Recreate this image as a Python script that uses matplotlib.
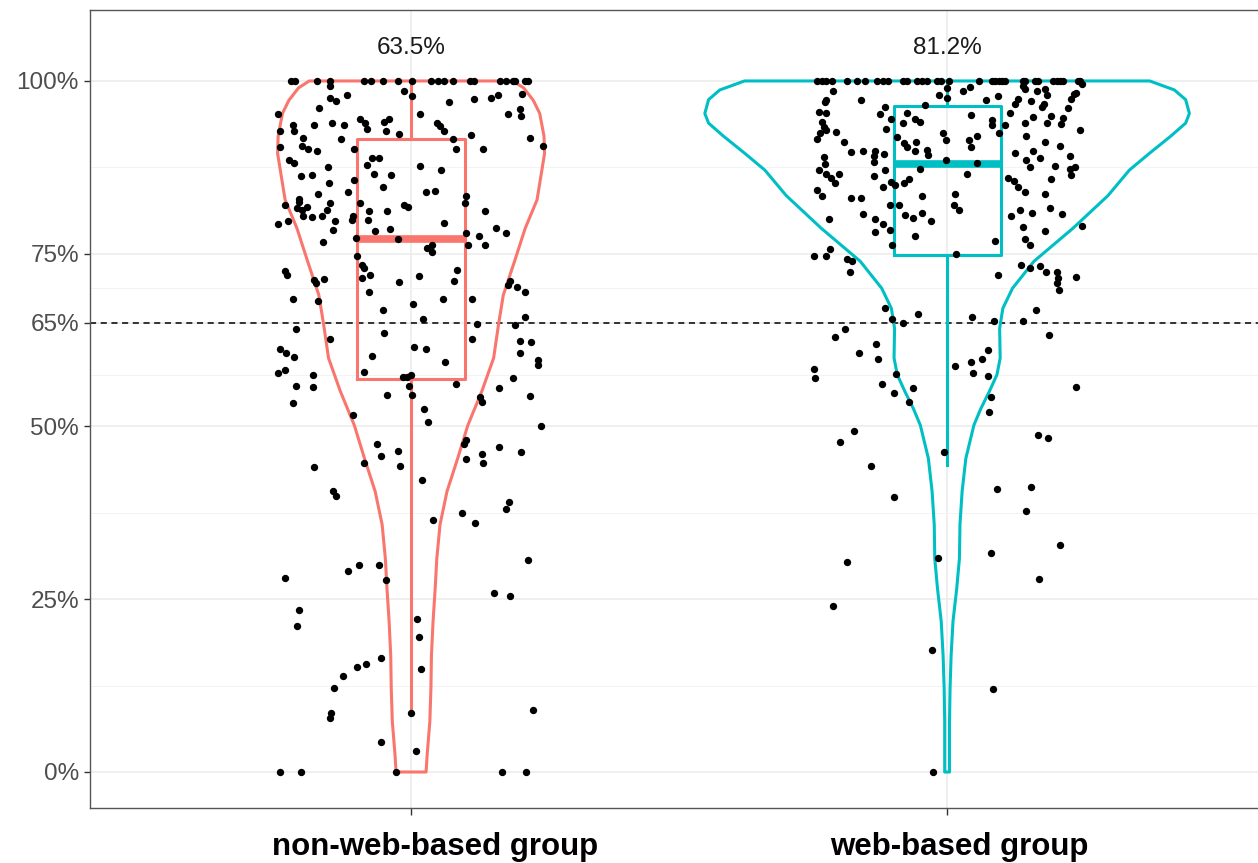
import numpy as np
import matplotlib
matplotlib.use("Agg")
import matplotlib.pyplot as plt
import matplotlib.transforms as mtransforms

# group names and the proportion labels printed above each violin
groups = ["non-web-based group", "web-based group"]
top_labels = ["63.5%", "81.2%"]
colors = ["#F8766D", "#00BFC4"]

# box stats: whisker low, q1, median, q3, whisker high (%)
box1 = [8.6, 56.9, 77.2, 91.6, 100.0]
box2 = [44.4, 74.8, 88.0, 96.4, 100.0]

# violin outline: score levels (%) and half width (in group units)
vio1_y = [0, 2.5, 7.3, 12.1, 16.9, 21.8, 26.6, 30.9, 35.8, 40.6, 45.4, 50.2, 55.1,
          59.9, 64.7, 69.0, 73.9, 78.7, 82.8, 87.1, 89.5, 92.0, 95.3, 97.2, 99.0, 100]
vio1_w = [0.028, 0.030, 0.035, 0.037, 0.038, 0.041, 0.045, 0.048, 0.054, 0.067, 0.087,
          0.106, 0.132, 0.154, 0.163, 0.172, 0.193, 0.213, 0.235, 0.244, 0.249, 0.248,
          0.240, 0.228, 0.210, 0.190]
vio2_y = [0, 7.3, 12.1, 16.9, 21.8, 26.6, 30.9, 35.8, 40.6, 45.4, 50.2, 52.6, 55.1,
          57.5, 59.9, 64.2, 67.1, 70.0, 73.9, 78.7, 83.4, 87.1, 89.5, 92.0, 93.9, 95.3,
          97.3, 98.7, 100]
vio2_w = [0.0045, 0.0045, 0.0055, 0.0075, 0.011, 0.018, 0.023, 0.024, 0.028, 0.035,
          0.050, 0.063, 0.079, 0.093, 0.099, 0.098, 0.104, 0.122, 0.162, 0.235, 0.300,
          0.340, 0.377, 0.417, 0.445, 0.452, 0.445, 0.424, 0.378]

# individual scores (%) and their horizontal jitter, non-web-based group
g1_score = [100] * 21 + [
    99.3, 98.5, 97.8, 97.9, 97.5, 97.1, 96.9, 97.4, 97.6, 97.9, 98.1, 96.1, 95.2, 95.2,
    95.2, 96.0, 94.9, 94.5, 93.9, 93.1, 94.1, 94.5, 92.8, 92.3, 93.9, 93.5, 92.8, 93.9,
    93.6, 93.7, 93.6, 92.8, 92.7, 92.2, 91.6, 90.2, 90.1, 91.7, 90.6, 91.8, 90.6, 90.2,
    89.9, 91.6, 90.5, 90.1, 88.5, 88.1, 87.5, 88.8, 88.9, 87.8, 87.7, 87.1, 86.2, 86.4,
    86.6, 86.4, 85.7, 85.2, 84.7, 83.7, 82.9, 84.0, 84.0, 84.1, 83.3,
    82.5, 82.1, 81.6, 81.3, 81.8, 80.4, 80.3, 80.5, 81.3, 82.3, 79.3, 79.7, 79.7, 78.4,
    76.7, 80.5, 79.9, 82.3, 81.2, 79.9, 78.3, 81.2, 78.6, 82.1, 81.7, 77.1, 79.5, 82.3,
    78.0, 76.2, 77.6, 76.3, 81.2, 78.7, 78.0, 75.9, 76.2, 75.2, 77.3, 74.7, 73.4, 73.0,
    71.9, 71.5, 70.9, 71.8, 72.7, 71.1, 72.5, 71.9, 71.2, 70.7, 71.4, 68.2, 68.5, 69.4,
    66.9, 67.7, 68.4, 68.4, 70.5, 71.1, 70.2, 69.5, 65.9, 65.5, 64.9, 64.7,
    64.1, 63.6, 62.7, 62.6, 61.2, 60.6, 60.0, 62.3, 62.2, 60.7, 59.6, 58.9, 61.5, 61.2,
    60.2, 59.3, 57.9, 58.2, 57.7, 57.4, 55.8, 55.7, 57.2, 57.2, 57.4, 55.8, 54.6, 56.2,
    57.0, 55.5, 54.3, 53.6, 54.6, 53.4, 54.4, 51.6, 52.5, 50.6, 50.1, 47.5, 45.7, 46.5,
    44.3, 44.7, 47.5, 48.1, 45.3, 46.0, 44.7, 47.1, 46.3, 44.1, 40.6, 40.0, 42.3, 39.0,
    38.1, 37.5, 36.0, 36.4,
    30.7, 28.1, 29.1, 30.0, 30.0, 27.8, 23.5, 21.1, 25.9, 25.5, 22.1, 19.6, 14.9, 16.5,
    15.6, 15.2, 13.9, 12.2, 8.6, 7.8, 8.6, 4.3, 3.1, 8.9, 0, 0, 0, 0, 0]
g1_jitter = [
    -0.224, -0.216, -0.176, -0.152, -0.087, -0.075, -0.053, -0.024, 0.001, 0.037, 0.051,
    0.062, 0.079, 0.110, 0.118, 0.166, 0.178, 0.191, 0.194, 0.213, 0.219,
    -0.152, -0.014, 0.001, -0.120, -0.151, -0.140, 0.070, 0.118, 0.149, 0.163, 0.206,
    -0.171, -0.248, 0.016, 0.180, 0.203, 0.205, -0.096, -0.086, -0.083, -0.050, -0.042,
    -0.047, -0.022, 0.048, 0.054, 0.062, -0.148, -0.126, -0.182, -0.220, -0.218, -0.244,
    0.111, 0.079, 0.083, 0.135, 0.222, 0.247, -0.201, -0.204, -0.193, -0.176, -0.131,
    -0.244, -0.106, -0.228, -0.218, -0.155, -0.073, -0.060, -0.083, 0.016, 0.055, -0.205,
    -0.185, -0.070, -0.037, -0.106, -0.154, -0.052, -0.174, -0.210, -0.117, 0.028, 0.045,
    0.103,
    -0.210, -0.235, -0.213, -0.204, -0.195, -0.202, -0.185, -0.167, -0.157, -0.151,
    -0.248, -0.229, -0.141, -0.145, -0.164, -0.108, -0.111, -0.096, -0.078, -0.081,
    -0.067, -0.044, -0.039, -0.014, -0.006, -0.024, 0.062, 0.101, 0.103, 0.106, 0.126,
    0.138, 0.138, 0.158, 0.178, 0.029, 0.039, 0.039, -0.103, -0.101, -0.092, -0.088,
    -0.076, -0.092, -0.022, 0.014, 0.085, 0.081, -0.236, -0.232, -0.182, -0.177, -0.162,
    -0.174, -0.221, -0.078, -0.053, 0.004, 0.060, 0.113, 0.180, 0.185, 0.198, 0.213,
    0.213, 0.022, 0.123, 0.194,
    -0.215, -0.050, -0.151, 0.114, -0.244, -0.233, -0.218, 0.203, 0.224, 0.203, 0.236,
    0.237, 0.006, 0.028, -0.072, 0.064, -0.088, -0.235, -0.248, -0.183, -0.215, -0.183,
    -0.016, -0.008, -0.001, -0.004, 0.001, 0.083, 0.190, 0.164, 0.129, 0.132, -0.044,
    -0.221, 0.221, -0.109, 0.025, 0.031, 0.243, -0.064, -0.056, -0.025, -0.020, -0.088,
    0.098, 0.102, 0.103, 0.133, 0.135, 0.164, 0.205, -0.181, -0.145, -0.140, 0.021,
    0.183, 0.178, 0.095, 0.119, 0.040,
    0.219, -0.236, -0.118, -0.098, -0.059, -0.047, -0.209, -0.213, 0.155, 0.185, 0.011,
    0.014, 0.019, -0.057, -0.085, -0.101, -0.127, -0.144, -0.150, -0.151, 0.0, -0.057,
    0.009, 0.227, -0.244, -0.206, -0.028, 0.170, 0.215]

# web-based group
g2_score = [100] * 34 + [
    98.6, 97.3, 96.9, 97.3, 96.3, 95.2, 94.5, 95.5, 95.3, 94.1, 93.3, 92.9, 92.4, 91.6,
    92.6, 91.1, 93.0, 91.9, 95.3, 93.9, 94.5, 94.1, 96.5, 98.0, 99.0, 97.5, 92.5, 91.4,
    91.0, 90.4, 91.1, 89.9, 90.0, 89.3, 88.6, 89.7, 89.9, 89.9, 89.5, 89.1, 88.3, 87.1,
    89.0, 88.0, 87.1, 86.6, 85.9, 85.3, 86.5, 86.2, 84.6, 85.4, 85.0, 85.3, 85.8, 87.2,
    84.2, 83.3, 83.0, 83.1, 83.3,
    98.5, 99.1, 97.3, 97.8, 99.2, 98.8, 98.6, 98.9, 97.9, 97.4, 96.7, 97.1, 96.6, 96.2,
    98.1, 98.3, 97.4, 96.1, 99.6, 95.4, 94.8, 95.0, 94.7, 93.8, 95.1, 94.4, 93.6, 93.6,
    93.9, 93.9, 92.9, 92.4, 92.1, 92.0, 91.5, 90.4, 91.2, 90.6, 89.6, 89.9, 88.8, 89.1,
    88.5, 87.6, 87.7, 87.2, 87.5, 86.4, 88.2, 86.5, 85.8, 85.9, 85.5, 84.6, 84.0, 83.6,
    83.6,
    82.1, 82.1, 82.1, 81.3, 80.0, 80.7, 80.0, 79.3, 78.4, 78.1, 80.6, 80.2, 80.9, 79.8,
    77.6, 76.3, 76.9, 74.9, 80.4, 81.3, 80.9, 81.6, 80.7, 78.9, 78.3, 77.1, 76.2, 79.0,
    75.7, 74.6, 74.6, 74.3, 74.0, 72.4, 73.4, 73.0, 73.2, 72.3, 72.4, 71.5, 70.7, 69.7,
    71.7, 71.9, 67.2, 65.5, 65.0, 66.3, 65.9, 65.3, 65.3, 66.8,
    64.1, 62.9, 61.9, 60.6, 59.7, 58.3, 57.0, 57.6, 56.2, 54.9, 55.5, 53.5, 63.3, 58.8,
    59.3, 59.8, 61.1, 57.7, 57.3, 54.2, 52.1, 55.7, 49.4, 47.7, 44.3, 46.3, 48.7, 48.3,
    39.8, 41.0, 41.2, 37.7, 32.9, 31.7, 31.0,
    30.4, 27.9, 24.0, 17.7, 12.0, 0]
g2_jitter = [
    -0.242, -0.234, -0.225, -0.215, -0.187, -0.169, -0.153, -0.131, -0.120, -0.111,
    -0.083, -0.074, -0.057, -0.047, -0.038, -0.019, -0.012, 0.003, 0.060, 0.083, 0.090,
    0.096, 0.102, 0.108, 0.141, 0.146, 0.164, 0.169, 0.198, 0.205, 0.211, 0.217, 0.244,
    0.248,
    -0.212, -0.225, -0.228, -0.160, -0.116, -0.125, -0.105, -0.239, -0.225, -0.234,
    -0.230, -0.225, -0.237, -0.243, -0.207, -0.193, -0.114, -0.094, -0.074, -0.083,
    -0.060, -0.050, -0.041, -0.016, -0.001, -0.001, -0.007, -0.002, -0.081, -0.075,
    -0.058, -0.060, -0.038, -0.035, -0.002, -0.179, -0.156, -0.134, -0.117, -0.137,
    -0.136, -0.116, -0.229, -0.228, -0.239, -0.225, -0.217, -0.209, -0.201, -0.136,
    -0.120, -0.105, -0.098, -0.081, -0.072, -0.050, -0.243, -0.234, -0.180, -0.161,
    -0.047,
    0.030, 0.043, 0.073, 0.095, 0.142, 0.146, 0.168, 0.183, 0.186, 0.132, 0.127, 0.157,
    0.180, 0.177, 0.236, 0.240, 0.231, 0.225, 0.251, 0.118, 0.161, 0.194, 0.216, 0.213,
    0.045, 0.083, 0.083, 0.108, 0.146, 0.186, 0.248, 0.096, 0.147, 0.055, 0.040, 0.045,
    0.183, 0.211, 0.126, 0.161, 0.174, 0.229, 0.147, 0.155, 0.201, 0.229, 0.239, 0.231,
    0.055, 0.037, 0.194, 0.114, 0.124, 0.133, 0.146, 0.183, 0.015,
    -0.106, -0.090, 0.012, 0.023, -0.221, -0.157, -0.134, -0.119, -0.106, -0.134, -0.078,
    -0.063, -0.047, -0.030, -0.060, -0.103, 0.090, 0.016, 0.119, 0.136, 0.158, 0.192,
    0.214, 0.141, 0.182, 0.145, 0.155, 0.251, -0.218, -0.248, -0.226, -0.187, -0.178,
    -0.182, 0.138, 0.155, 0.174, 0.184, 0.205, 0.206, 0.205, 0.209, 0.241, 0.095,
    -0.116, -0.103, -0.083, -0.055, 0.046, 0.088, 0.141, 0.165,
    -0.190, -0.209, -0.132, -0.164, -0.129, -0.248, -0.246, -0.096, -0.121, -0.099,
    -0.063, -0.072, 0.191, 0.015, 0.045, 0.065, 0.076, 0.048, 0.077, 0.082, 0.079,
    0.241, -0.173, -0.200, -0.142, -0.005, 0.170, 0.189, -0.099, 0.093, 0.157, 0.147,
    0.210, 0.081, -0.017,
    -0.187, 0.172, -0.213, -0.028, 0.085, -0.027]

fig = plt.figure(figsize=(12.58, 8.63), dpi=100)
ax = fig.add_axes([90 / 1258, 55 / 863, 1168 / 1258, 798 / 863])

ax.set_xlim(0.401, 2.580)
ax.set_ylim(-5.21, 110.27)

# grid like theme_bw
ax.set_yticks([0, 25, 50, 65, 75, 100])
ax.set_yticklabels(["0%", "25%", "50%", "65%", "75%", "100%"])
ax.set_yticks([12.5, 37.5, 57.5, 70, 87.5], minor=True)
ax.set_xticks([1, 2])
ax.set_xticklabels([])
ax.grid(True, which="major", color="#EBEBEB", linewidth=1.1, zorder=0)
ax.grid(True, which="minor", axis="y", color="#F3F3F3", linewidth=0.7, zorder=0)
ax.set_axisbelow(True)
ax.tick_params(axis="y", which="major", length=4, width=1, color="#333333",
               labelsize=17.5, labelcolor="#4D4D4D", pad=4)
ax.tick_params(axis="x", which="major", length=5, width=1, color="#333333")
ax.tick_params(which="minor", length=0)
for lab in ax.get_yticklabels():
    lab.set_family("Liberation Sans")
for name in ["left", "bottom", "top"]:
    ax.spines[name].set_color("#555555")
    ax.spines[name].set_linewidth(1.0)
ax.spines["right"].set_visible(False)

# group names sit a little right of their ticks in the original
trans = mtransforms.blended_transform_factory(ax.transData, ax.transAxes)
label_shift = [0.045, 0.022]
for i, name in enumerate(groups):
    ax.text(i + 1 + label_shift[i], -0.030, name, transform=trans, ha="center",
            va="top", fontsize=22.5, fontweight="bold", family="Liberation Sans",
            color="black")

ax.axhline(65, color="black", linestyle=(0, (4, 3)), linewidth=1.1, zorder=1)

vios = [(vio1_y, vio1_w), (vio2_y, vio2_w)]
boxes = [box1, box2]
for i, (vy, vw) in enumerate(vios):
    pos = i + 1
    vy = np.array(vy)
    vw = np.array(vw)
    ax.fill_betweenx(vy, pos - vw, pos + vw, facecolor="none",
                     edgecolor=colors[i], linewidth=2.2, zorder=2)
    lo, q1, med, q3, hi = boxes[i]
    stats = [{"whislo": lo, "q1": q1, "med": med, "q3": q3, "whishi": hi, "fliers": []}]
    ax.bxp(stats, positions=[pos], widths=0.2, showcaps=False, showfliers=False,
           manage_ticks=False,
           boxprops=dict(color=colors[i], linewidth=2.2),
           whiskerprops=dict(color=colors[i], linewidth=2.2),
           medianprops=dict(color=colors[i], linewidth=5.5, solid_capstyle="butt"),
           zorder=3)
    ax.text(pos, 104.8, top_labels[i], ha="center", va="center", fontsize=17.5,
            color="#1A1A1A", family="Liberation Sans")

ax.scatter(1 + np.array(g1_jitter), g1_score, s=28, color="black", linewidths=0, zorder=4)
ax.scatter(2 + np.array(g2_jitter), g2_score, s=28, color="black", linewidths=0, zorder=4)

fig.savefig("out.png", dpi=100)
